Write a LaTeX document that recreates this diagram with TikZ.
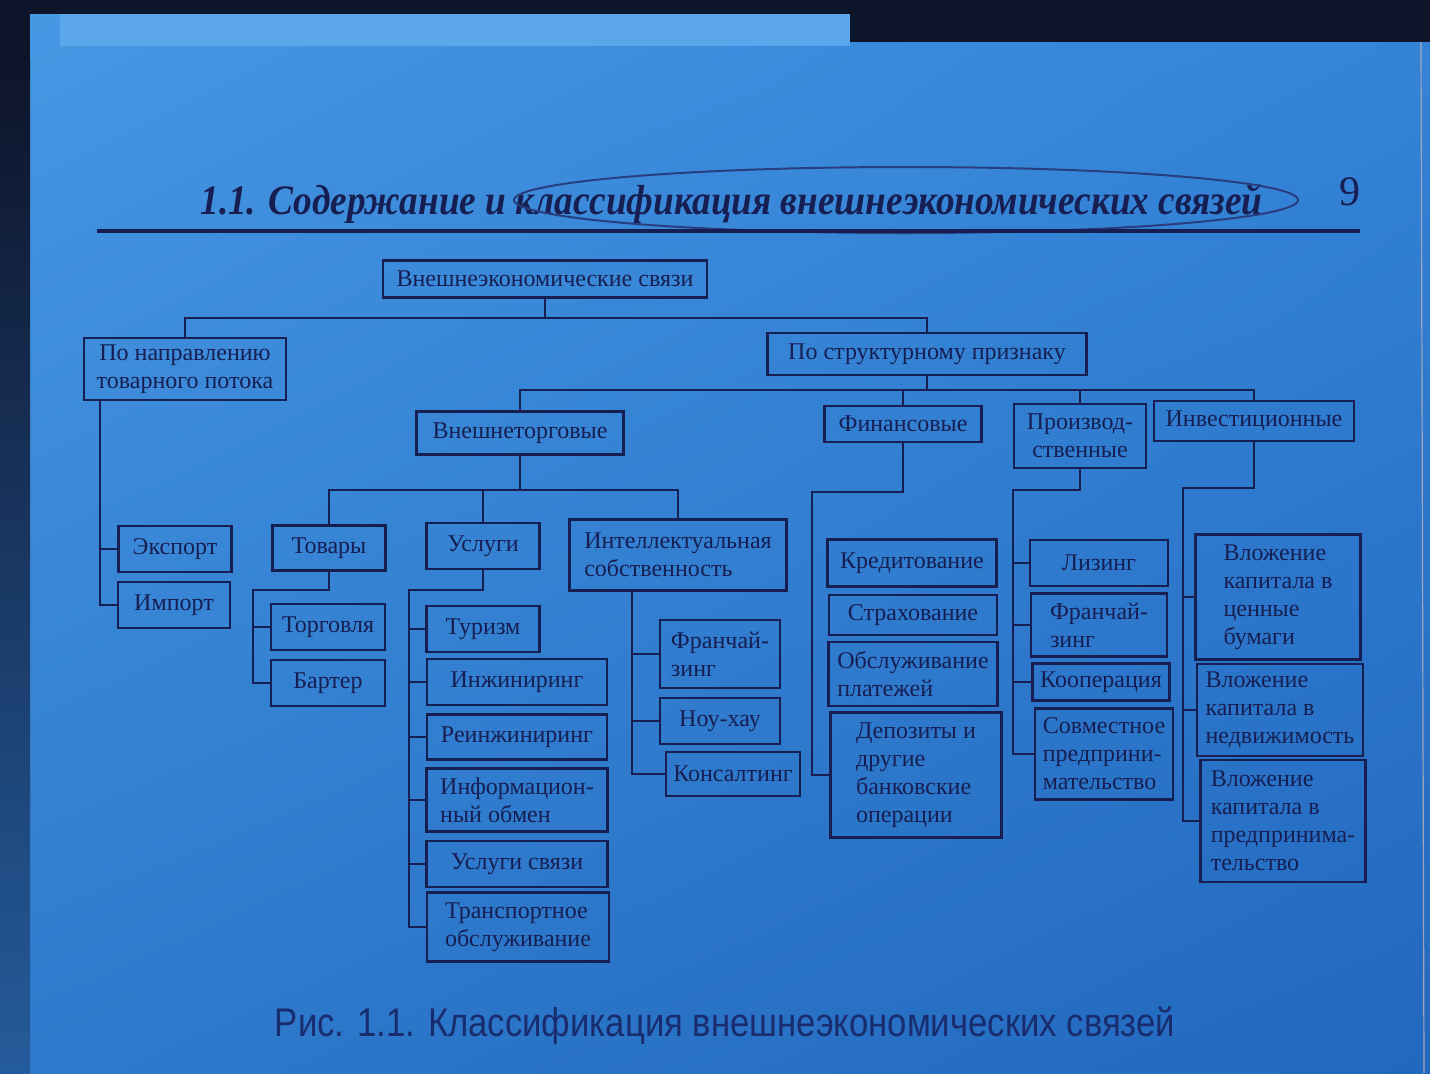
\documentclass[tikz,border=0pt]{standalone}
\usepackage{fontspec}
\setmainfont{Liberation Serif}
\newfontfamily\capfont{Liberation Sans}
\usepackage{graphicx}
\usetikzlibrary{shadings}
\definecolor{ink}{RGB}{22,30,82}
\definecolor{capink}{RGB}{24,44,110}
\definecolor{pen}{RGB}{40,62,128}
\definecolor{dark}{RGB}{14,20,42}
\definecolor{sheet}{RGB}{92,166,236}
\definecolor{pgA}{RGB}{72,152,228}
\definecolor{pgB}{RGB}{52,132,216}
\definecolor{pgC}{RGB}{46,122,204}
\definecolor{pgD}{RGB}{34,104,190}

\begin{document}
\begin{tikzpicture}[x=0.5pt,y=-0.5pt]

\tikzset{box/.style = {draw=ink, line width=1.3pt, text=ink, inner xsep=3pt, inner ysep=2pt, align=center, font=\fontsize{12}{14}\selectfont}}
\tikzset{edge/.style = {draw=ink, line width=1.3pt}}

% page
\useasboundingbox (0,0) rectangle (1430,1073);
\shade[upper left=pgA, upper right=pgB, lower left=pgC, lower right=pgD] (0,0) rectangle (1430,1073);
\fill[dark] (0,0) rectangle (1430,14);
\fill[dark] (850,0) rectangle (1430,42);
\fill[sheet] (60,14) rectangle (850,46);
\fill[dark] (0,0) rectangle (30,60);
\shade[top color=dark, bottom color=pgC!70!dark] (0,60) rectangle (30,1073);
\draw[ink!40, line width=0.6pt] (1421,42) -- (1424,1073);

% header
\node[anchor=base west, text=ink, inner sep=0pt] (hd) at (200,214) {\resizebox{531pt}{\height}{\fontsize{21}{21}\selectfont\bfseries\itshape 1.1. Содержание и классификация внешнеэкономических связей}};
\node[anchor=base, text=ink, inner sep=0pt, font=\fontsize{21}{21}\selectfont] (pg) at (1350,205) {9};
\draw[pen, line width=1pt] (906,200) ellipse [x radius=392, y radius=33];
\draw[ink, line width=1.8pt] (97,231) -- (1360,231);

% vertices
\node[box, minimum width=162pt, minimum height=18.5pt] (ves) at (545,279) {Внешнеэкономические связи};
\node[box, minimum width=101pt, minimum height=31pt] (dir) at (185,369) {По направлению\\товарного потока};
\node[box, minimum width=159.5pt, minimum height=21pt] (str) at (927,354) {По структурному признаку};
\node[box, minimum width=103.5pt, minimum height=21.5pt] (vt) at (520,433) {Внешнеторговые};
\node[box, minimum width=78.5pt, minimum height=18pt] (fin) at (903,424) {Финансовые};
\node[box, minimum width=66pt, minimum height=32pt] (pr) at (1080,436) {Производ-\\ственные};
\node[box, minimum width=100pt, minimum height=20pt] (inv) at (1254,421) {Инвестиционные};

\node[box, minimum width=56.5pt, minimum height=23pt] (exp) at (175,549) {Экспорт};
\node[box, minimum width=56pt, minimum height=23pt] (imp) at (174,605) {Импорт};
\node[box, minimum width=56.5pt, minimum height=22.5pt] (tov) at (329,548) {Товары};
\node[box, minimum width=56.5pt, minimum height=23pt] (usl) at (483,546) {Услуги};
\node[box, align=left, minimum width=108.5pt, minimum height=35.5pt] (ip) at (678,555) {Интеллектуальная\\собственность};

\node[box, minimum width=57pt, minimum height=23pt] (torg) at (328,627) {Торговля};
\node[box, minimum width=57pt, minimum height=23pt] (bart) at (328,683) {Бартер};

\node[box, minimum width=56.5pt, minimum height=23pt] (tur) at (483,629) {Туризм};
\node[box, minimum width=90pt, minimum height=23pt] (eng) at (517,682) {Инжиниринг};
\node[box, minimum width=90pt, minimum height=22.5pt] (rein) at (517,737) {Реинжиниринг};
\node[box, align=left, minimum width=90.5pt, minimum height=31.5pt] (info) at (517,800) {Информацион-\\ный обмен};
\node[box, minimum width=90.5pt, minimum height=23pt] (svz) at (517,864) {Услуги связи};
\node[box, align=left, minimum width=91pt, minimum height=34.5pt] (tr) at (518,927) {Транспортное\\обслуживание};

\node[box, align=left, minimum width=60pt, minimum height=34pt] (fr1) at (720,654) {Франчай-\\зинг};
\node[box, minimum width=60pt, minimum height=23pt] (nou) at (720,721) {Ноу-хау};
\node[box, minimum width=67pt, minimum height=22pt] (kons) at (733,774) {Консалтинг};

\node[box, minimum width=84.5pt, minimum height=23.5pt] (kred) at (912,563) {Кредитование};
\node[box, minimum width=84pt, minimum height=20pt] (strah) at (913,615) {Страхование};
\node[box, align=left, minimum width=84.5pt, minimum height=32pt] (obs) at (913,674) {Обслуживание\\платежей};
\node[box, align=left, minimum width=85.5pt, minimum height=62.5pt] (dep) at (916,775) {Депозиты и\\другие\\банковские\\операции};

\node[box, minimum width=69pt, minimum height=23pt] (liz) at (1099,563) {Лизинг};
\node[box, align=left, minimum width=68pt, minimum height=31.5pt] (fr2) at (1099,625) {Франчай-\\зинг};
\node[box, minimum width=68.5pt, minimum height=18.5pt] (koop) at (1101,682) {Кооперация};
\node[box, align=left, minimum width=69pt, minimum height=45.5pt] (sov) at (1104,754) {Совместное\\предприни-\\мательство};

\node[box, align=left, minimum width=82.5pt, minimum height=62.5pt] (vk1) at (1278,597) {Вложение\\капитала в\\ценные\\бумаги};
\node[box, align=left, minimum width=83pt, minimum height=46pt] (vk2) at (1280,710) {Вложение\\капитала в\\недвижимость};
\node[box, align=left, minimum width=82.5pt, minimum height=61pt] (vk3) at (1283,821) {Вложение\\капитала в\\предпринима-\\тельство};

% edges
\coordinate (j0) at (545,318);
\draw[edge] (ves.south) -- (j0) -| (dir.north);
\draw[edge] (j0) -| (str.north);

\coordinate (j1) at (927,390);
\draw[edge] (str.south) -- (j1) -| (vt.north);
\draw[edge] (j1) -| (fin.north);
\draw[edge] (j1) -| (pr.north);
\draw[edge] (j1) -| (inv.north);

\coordinate (dirT) at (100,400);
\draw[edge] (dirT) |- (exp.west);
\draw[edge] (dirT) |- (imp.west);

\coordinate (j2) at (520,490);
\draw[edge] (vt.south) -- (j2) -| (tov.north);
\draw[edge] (j2) -| (usl.north);
\draw[edge] (j2) -| (ip.north);

\coordinate (tovJ) at (253,590);
\draw[edge] (tov.south) |- (tovJ) |- (torg.west);
\draw[edge] (tovJ) |- (bart.west);

\coordinate (uslJ) at (409,590);
\draw[edge] (usl.south) |- (uslJ) |- (tur.west);
\draw[edge] (uslJ) |- (eng.west);
\draw[edge] (uslJ) |- (rein.west);
\draw[edge] (uslJ) |- (info.west);
\draw[edge] (uslJ) |- (svz.west);
\draw[edge] (uslJ) |- (tr.west);

\coordinate (ipT) at (632,590.5);
\draw[edge] (ipT) |- (fr1.west);
\draw[edge] (ipT) |- (nou.west);
\draw[edge] (ipT) |- (kons.west);

\coordinate (finJ) at (812,492);
\draw[edge] (fin.south) |- (finJ) |- (dep.west);

\coordinate (prJ) at (1013,490);
\draw[edge] (pr.south) |- (prJ) |- (liz.west);
\draw[edge] (prJ) |- (fr2.west);
\draw[edge] (prJ) |- (koop.west);
\draw[edge] (prJ) |- (sov.west);

\coordinate (invJ) at (1183,488);
\draw[edge] (inv.south) |- (invJ) |- (vk1.west);
\draw[edge] (invJ) |- (vk2.west);
\draw[edge] (invJ) |- (vk3.west);

% caption
\node[anchor=base, text=capink, inner sep=0pt] (cap) at (725,1036) {\resizebox{450pt}{\height}{\capfont\fontsize{20}{20}\selectfont Рис. 1.1. Классификация внешнеэкономических связей}};
\end{tikzpicture}
\end{document}
